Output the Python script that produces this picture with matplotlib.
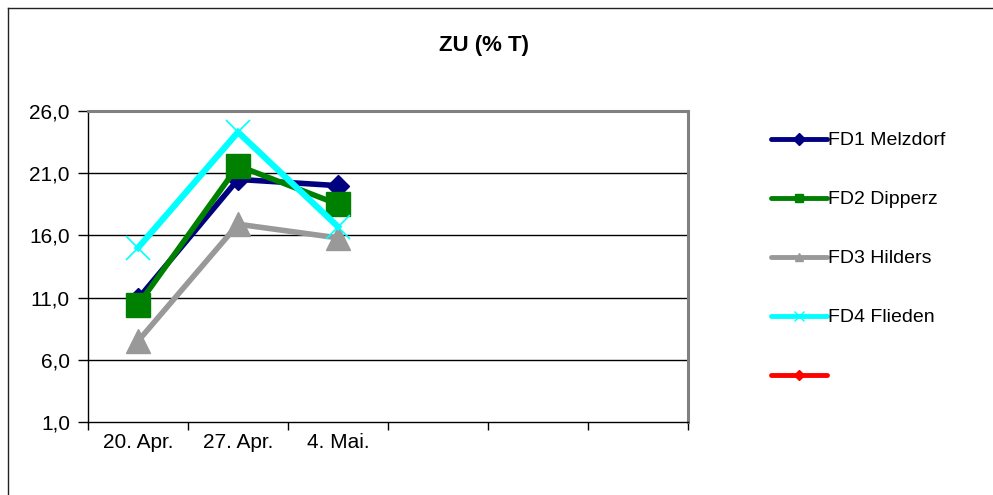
import matplotlib
matplotlib.use("Agg")
import matplotlib.pyplot as plt
from matplotlib.lines import Line2D
from matplotlib.ticker import FuncFormatter

plt.rcParams['font.family'] = ['Liberation Sans', 'DejaVu Sans']

# data
dates = ["20. Apr.", "27. Apr.", "4. Mai."]
n_slots = 6
melzdorf = [10.9, 20.5, 20.0]
dipperz = [10.4, 21.6, 18.5]
hilders = [7.5, 16.9, 15.8]
flieden = [15.0, 24.3, 16.7]
series5 = []
labels = ["FD1 Melzdorf", "FD2 Dipperz", "FD3 Hilders", "FD4 Flieden", ""]
yticks = [1, 6, 11, 16, 21, 26]

fig = plt.figure(figsize=(9.93, 4.95), dpi=100)
ax = fig.add_axes([88 / 993, 1 - 422 / 495, 600 / 993, 311 / 495])

xs = [i + 0.5 for i in range(len(dates))]
styles = [
    (melzdorf, "#000080", "D", 11, 4.0),
    (dipperz, "#008000", "s", 17, 4.0),
    (hilders, "#999999", "^", 17, 4.0),
    (flieden, "#00FFFF", "x", 17, 4.5),
]
handles = []
for vals, col, mk, ms, lw in styles:
    ax.plot(xs[:len(vals)], vals, color=col, lw=lw, marker=mk, ms=ms,
            mfc=col, mec=col, mew=1.2 if mk == "x" else 1, solid_joinstyle="miter",
            clip_on=False, zorder=3)
    handles.append(Line2D([], [], color=col, lw=3.5, marker=mk,
                          ms=6 if mk != "x" else 7, mfc=col, mec=col,
                          solid_capstyle="round"))
ax.plot(xs[:len(series5)], series5, color="#FF0000", lw=4, marker="D")
handles.append(Line2D([], [], color="#FF0000", lw=3.5, marker="D", ms=5,
                      mfc="#FF0000", mec="#FF0000", solid_capstyle="round"))

ax.set_xlim(0, n_slots)
ax.set_ylim(yticks[0], yticks[-1])
ax.set_yticks(yticks)
ax.yaxis.set_major_formatter(FuncFormatter(lambda v, p: f"{v:.1f}".replace(".", ",")))
ax.set_xticks(range(n_slots + 1))
ax.set_xticklabels([])
ax.set_xticks(xs, minor=True)
ax.set_xticklabels(dates, minor=True)
ax.tick_params(axis="x", which="minor", length=0, pad=8, labelsize=15)
ax.tick_params(axis="x", which="major", length=6, width=1, direction="out")
ax.tick_params(axis="y", length=7, width=1, direction="out", pad=6, labelsize=15)

for y in yticks[1:-1]:
    ax.axhline(y, color="black", lw=1, zorder=1)
ax.spines["top"].set_color("#808080")
ax.spines["top"].set_linewidth(2.2)
ax.spines["right"].set_color("#808080")
ax.spines["right"].set_linewidth(2.2)
ax.spines["left"].set_linewidth(1)
ax.spines["bottom"].set_linewidth(1)

fig.text(484 / 993, 1 - 46 / 495, "ZU (% T)", ha="center", va="center",
         fontsize=16, fontweight="bold")

leg = fig.legend(handles, labels, loc="upper left",
                 bbox_to_anchor=(761 / 993, 1 - 122 / 495), frameon=False,
                 fontsize=14, labelspacing=2.13, handlelength=2.9,
                 handletextpad=0.05, borderpad=0)

# outer chart frame (top and left edges visible)
fig.add_artist(Line2D([8 / 993, 8 / 993], [0, 1 - 8 / 495], color="#222222",
                      lw=1, transform=fig.transFigure))
fig.add_artist(Line2D([8 / 993, 1], [1 - 8 / 495, 1 - 8 / 495], color="#222222",
                      lw=1, transform=fig.transFigure))

fig.savefig("out.png", dpi=100, facecolor="white")
